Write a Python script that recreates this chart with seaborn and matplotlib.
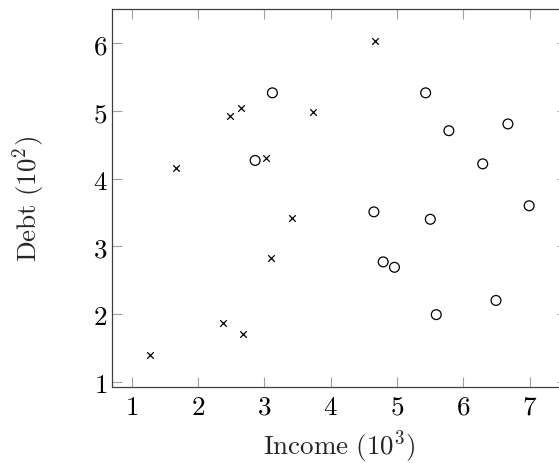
import matplotlib
matplotlib.use("Agg")
import matplotlib.pyplot as plt
import seaborn as sns
import pandas as pd
from matplotlib.ticker import FuncFormatter

# crosses
cross_income = [1.27, 1.66, 2.37, 2.48, 2.64, 2.68, 3.03, 3.10, 3.42, 3.73, 4.67]
cross_debt = [1.39, 4.16, 1.87, 4.93, 5.05, 1.71, 4.31, 2.83, 3.42, 4.98, 6.04]
# circles
circ_income = [2.86, 3.12, 4.65, 4.79, 4.96, 5.43, 5.50, 5.59, 5.78, 6.29, 6.49, 6.67, 6.99]
circ_debt = [4.27, 5.27, 3.51, 2.77, 2.69, 5.27, 3.40, 1.99, 4.71, 4.22, 2.20, 4.81, 3.60]

x_ticks = [1, 2, 3, 4, 5, 6, 7]
y_ticks = [1, 2, 3, 4, 5, 6]

sns.set_theme(style="white")
plt.rcParams["mathtext.fontset"] = "cm"
plt.rcParams["font.family"] = ["DejaVu Serif"]

fig = plt.figure(figsize=(5.59, 4.64), dpi=100)
ax = fig.add_axes([0.1998, 0.1638, 0.8147, 0.8147])

df_c = pd.DataFrame({"income": cross_income, "debt": cross_debt})
df_o = pd.DataFrame({"income": circ_income, "debt": circ_debt})

sns.scatterplot(data=df_c, x="income", y="debt", marker="x", color="black",
                s=22, linewidth=0.9, ax=ax)
sns.scatterplot(data=df_o, x="income", y="debt", marker="o", facecolor="none",
                edgecolor="black", s=50, linewidth=0.9, ax=ax)

ax.set_xlim(0.698, 7.562)
ax.set_ylim(0.92, 6.51)
ax.set_xticks(x_ticks)
ax.set_yticks(y_ticks)
fmt = FuncFormatter(lambda v, p: r"$%d$" % v)
ax.xaxis.set_major_formatter(fmt)
ax.yaxis.set_major_formatter(fmt)
ax.tick_params(direction="in", length=7, width=0.8, color="#a0a0a0",
               labelsize=19.5, labelcolor="black",
               top=True, right=True, bottom=True, left=True)
ax.tick_params(axis="x", pad=4)
ax.tick_params(axis="y", pad=3)
for s in ax.spines.values():
    s.set_visible(True)
    s.set_color("#404040")
    s.set_linewidth(0.9)

ax.set_xlabel(r"$\mathrm{Income}\ (10^3)$", fontsize=19.5)
ax.set_ylabel(r"$\mathrm{Debt}\ (10^2)$", fontsize=19.5)
ax.xaxis.set_label_coords(0.5, -0.106)
ax.yaxis.set_label_coords(-0.142, 0.5)

fig.savefig("out.png", dpi=100)
